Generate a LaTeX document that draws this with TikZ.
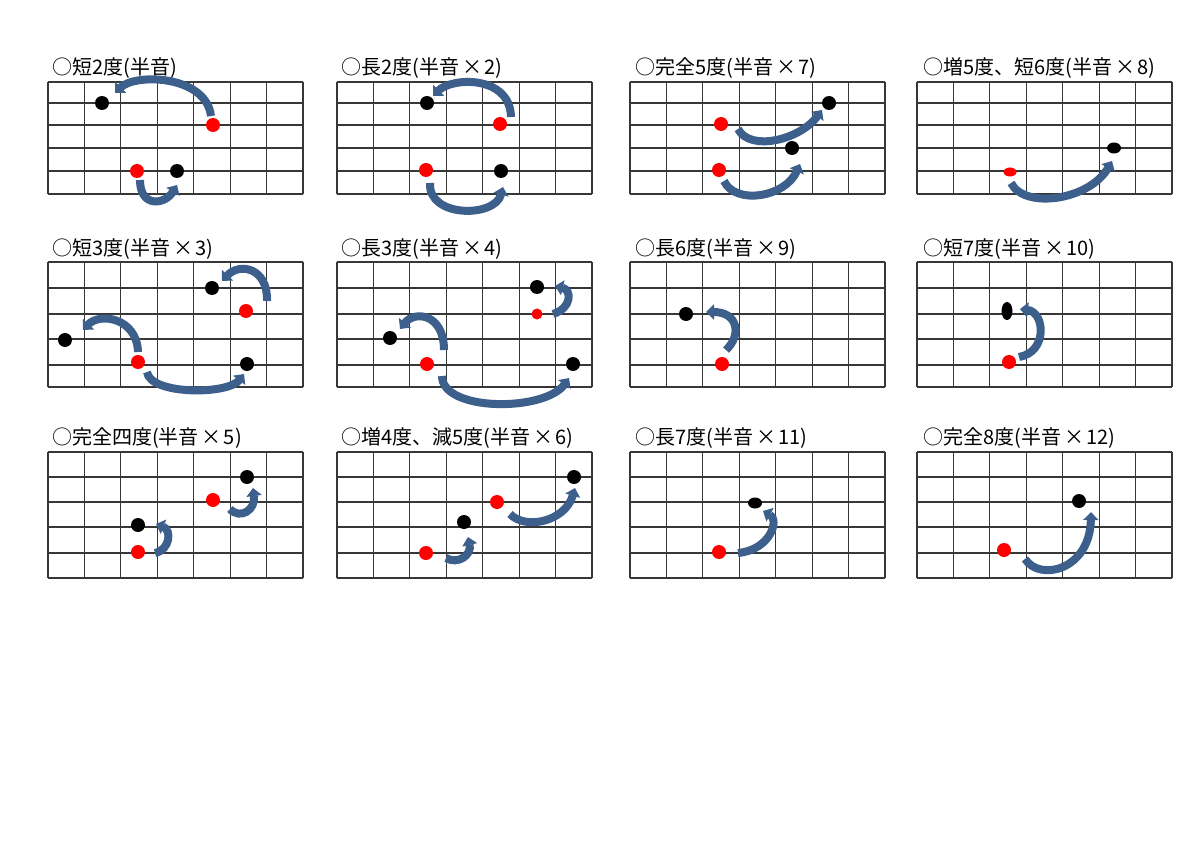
\documentclass[tikz,border=0pt]{standalone}
\usepackage{fontspec}
\setmainfont{Noto Sans CJK JP}
\usetikzlibrary{arrows.meta,shapes.geometric}
\definecolor{arrblue}{RGB}{60,95,140}
\definecolor{gridgray}{RGB}{55,55,55}
\newcommand\tms{\hspace{3pt}×\hspace{2pt}}
\tikzset{
  gridline/.style={draw=gridgray,line width=1.1pt},
  title/.style={anchor=west,inner sep=0pt,font=\fontsize{20}{23}\selectfont},
  bdot/.style={circle,fill=black,inner sep=0pt,minimum size=14pt},
  rdot/.style={circle,fill=red,inner sep=0pt,minimum size=14pt},
  bell/.style={ellipse,fill=black,inner sep=0pt},
  rell/.style={ellipse,fill=red,inner sep=0pt},
  arr/.style={draw=arrblue,line width=8pt,-{Triangle[length=8pt,width=15pt]}},
}
\newcommand\fretgrid[7]{%
  \foreach \yy in {#2,#3,#4,#5,#6,#7} \draw[gridline] (#1,\yy) -- ++(255,0);
  \foreach \ii in {0,...,7} \draw[gridline] ({#1+\ii*255/7},#2) -- ({#1+\ii*255/7},#7);
}
\begin{document}
\begin{tikzpicture}[x=1pt,y=-1pt]
\useasboundingbox[fill=white] (0,0) rectangle (1200,848);

% ---------- grids ----------
\fretgrid{48}{82}{103}{125}{148}{171}{194}
\fretgrid{337}{82}{103}{125}{148}{171}{194}
\fretgrid{630}{82}{103}{125}{148}{171}{194}
\fretgrid{917}{82}{103}{125}{148}{171}{194}
\fretgrid{48}{262}{288}{314}{339}{365}{387}
\fretgrid{337}{262}{288}{314}{339}{365}{387}
\fretgrid{630}{262}{288}{314}{339}{365}{387}
\fretgrid{917}{262}{288}{314}{339}{365}{387}
\fretgrid{48}{452}{477}{502}{527}{553}{578}
\fretgrid{337}{452}{477}{502}{527}{553}{578}
\fretgrid{630}{452}{477}{502}{527}{553}{578}
\fretgrid{917}{452}{477}{502}{527}{553}{578}

% ---------- titles ----------
\node[title] (t1) at (52,68) {○短2度(半音)};
\node[title] (t2) at (341,68) {○長2度(半音\tms 2)};
\node[title] (t3) at (635,68) {○完全5度(半音\tms 7)};
\node[title] (t4) at (923,68) {○増5度、短6度(半音\tms 8)};
\node[title] (t5) at (52,249) {○短3度(半音\tms 3)};
\node[title] (t6) at (341,249) {○長3度(半音\tms 4)};
\node[title] (t7) at (635,249) {○長6度(半音\tms 9)};
\node[title] (t8) at (923,249) {○短7度(半音\tms 10)};
\node[title] (t9) at (52,438) {○完全四度(半音\tms 5)};
\node[title] (t10) at (341,438) {○増4度、減5度(半音\tms 6)};
\node[title] (t11) at (635,438) {○長7度(半音\tms 11)};
\node[title] (t12) at (923,438) {○完全8度(半音\tms 12)};

% ---------- dots ----------
% grid 1
\node[bdot] (g1b1) at (102,103) {};
\node[rdot] (g1r1) at (213,125) {};
\node[rdot] (g1r2) at (137,171) {};
\node[bdot] (g1b2) at (177,171) {};
% grid 2
\node[bdot] (g2b1) at (427,103) {};
\node[rdot] (g2r1) at (500,124) {};
\node[rdot] (g2r2) at (426,170) {};
\node[bdot] (g2b2) at (501,171) {};
% grid 3
\node[rdot] (g3r1) at (721,124) {};
\node[bdot] (g3b1) at (829,103) {};
\node[rdot] (g3r2) at (719,170) {};
\node[bdot] (g3b2) at (792,148) {};
% grid 4
\node[rell,minimum width=13pt,minimum height=9pt] (g4r) at (1010,172) {};
\node[bell,minimum width=14pt,minimum height=11pt] (g4b) at (1114,148) {};
% grid 5
\node[bdot] (g5b1) at (212,288) {};
\node[rdot] (g5r1) at (246,311) {};
\node[bdot] (g5b2) at (65,340) {};
\node[rdot] (g5r2) at (138,362) {};
\node[bdot] (g5b3) at (247,364) {};
% grid 6
\node[bdot] (g6b1) at (537,287) {};
\node[rdot,minimum size=11pt] (g6r1) at (537,314) {};
\node[bdot] (g6b2) at (390,338) {};
\node[rdot] (g6r2) at (427,364) {};
\node[bdot] (g6b3) at (573,364) {};
% grid 7
\node[bdot] (g7b) at (686,314) {};
\node[rdot] (g7r) at (722,364) {};
% grid 8
\node[bell,minimum width=11pt,minimum height=18pt] (g8b) at (1007,311) {};
\node[rdot] (g8r) at (1009,362) {};
% grid 9
\node[bdot] (g9b1) at (247,477) {};
\node[rdot] (g9r1) at (213,500) {};
\node[bdot] (g9b2) at (138,525) {};
\node[rdot] (g9r2) at (138,552) {};
% grid 10
\node[bdot] (g10b1) at (574,477) {};
\node[rdot] (g10r1) at (497,502) {};
\node[bdot] (g10b2) at (464,522) {};
\node[rdot] (g10r2) at (426,553) {};
% grid 11
\node[bell,minimum width=14pt,minimum height=11pt] (g11b) at (755,503) {};
\node[rdot] (g11r) at (719,552) {};
% grid 12
\node[bdot] (g12b) at (1079,501) {};
\node[rdot] (g12r) at (1004,550) {};

% ---------- arrow ends ----------
\coordinate (a1t) at (211,116);  \coordinate (a1h) at (115,93);
\coordinate (a2t) at (140,180);  \coordinate (a2h) at (177,185);
\coordinate (a3t) at (511,117);  \coordinate (a3h) at (433,96);
\coordinate (a4t) at (430,183);  \coordinate (a4h) at (503,187);
\coordinate (a5t) at (738,129);  \coordinate (a5h) at (822,110);
\coordinate (a6t) at (724,181);  \coordinate (a6h) at (800,164);
\coordinate (a7t) at (1011,183); \coordinate (a7h) at (1112,161);
\coordinate (a8t) at (267,301);  \coordinate (a8h) at (222,281);
\coordinate (a9t) at (138,352);  \coordinate (a9h) at (83,330);
\coordinate (a10t) at (147,372); \coordinate (a10h) at (244,374);
\coordinate (a11t) at (553,314); \coordinate (a11h) at (555,286);
\coordinate (a12t) at (444,350); \coordinate (a12h) at (400,329);
\coordinate (a13t) at (442,376); \coordinate (a13h) at (569,378);
\coordinate (a14t) at (726,350); \coordinate (a14h) at (706,312);
\coordinate (a15t) at (1019,357);\coordinate (a15h) at (1020,309);
\coordinate (a16t) at (230,509); \coordinate (a16h) at (253,488);
\coordinate (a17t) at (155,553); \coordinate (a17h) at (156,524);
\coordinate (a18t) at (510,514); \coordinate (a18h) at (575,488);
\coordinate (a19t) at (446,558); \coordinate (a19h) at (468,537);
\coordinate (a20t) at (738,553); \coordinate (a20h) at (763,511);
\coordinate (a21t) at (1025,559);\coordinate (a21h) at (1091,512);

% ---------- arrows ----------
\draw[arr] (a1t) .. controls (206,75) and (135,73) .. (a1h);
\draw[arr] (a2t) .. controls (140,208) and (165,205) .. (a2h);
\draw[arr] (a3t) .. controls (510,75) and (452,77) .. (a3h);
\draw[arr] (a4t) .. controls (428,218) and (495,218) .. (a4h);
\draw[arr] (a5t) .. controls (750,152) and (800,140) .. (a5h);
\draw[arr] (a6t) .. controls (735,205) and (785,198) .. (a6h);
\draw[arr] (a7t) .. controls (1025,210) and (1090,200) .. (a7h);
\draw[arr] (a8t) .. controls (268,268) and (240,262) .. (a8h);
\draw[arr] (a9t) .. controls (137,318) and (100,312) .. (a9h);
\draw[arr] (a10t) .. controls (150,395) and (228,395) .. (a10h);
\draw[arr] (a11t) .. controls (572,308) and (572,290) .. (a11h);
\draw[arr] (a12t) .. controls (444,314) and (415,310) .. (a12h);
\draw[arr] (a13t) .. controls (442,412) and (545,412) .. (a13h);
\draw[arr] (a14t) .. controls (742,335) and (738,312) .. (a14h);
\draw[arr] (a15t) .. controls (1048,352) and (1045,312) .. (a15h);
\draw[arr] (a16t) .. controls (240,520) and (256,510) .. (a16h);
\draw[arr] (a17t) .. controls (170,550) and (172,530) .. (a17h);
\draw[arr] (a18t) .. controls (525,530) and (565,522) .. (a18h);
\draw[arr] (a19t) .. controls (458,565) and (472,555) .. (a19h);
\draw[arr] (a20t) .. controls (770,550) and (780,520) .. (a20h);
\draw[arr] (a21t) .. controls (1040,582) and (1090,570) .. (a21h);
\end{tikzpicture}
\end{document}
